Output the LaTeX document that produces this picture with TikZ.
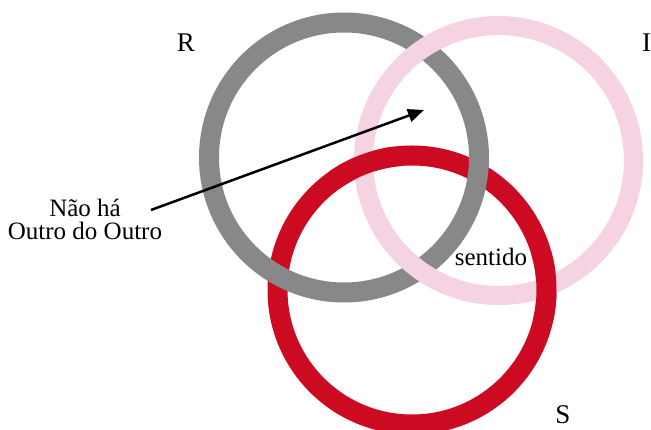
\documentclass[tikz,border=0pt]{standalone}
\usepackage{fontspec}
\setmainfont{Liberation Serif}
\usetikzlibrary{arrows.meta}
\definecolor{ringgray}{HTML}{87888A}
\definecolor{ringpink}{HTML}{F6D3E2}
\definecolor{ringred}{HTML}{CC0A21}
\begin{document}
\begin{tikzpicture}[x=1pt,y=-1pt,
  ring/.style={line width=20pt},
  lbl/.style={font=\fontsize{25}{25}\selectfont, inner sep=0pt, anchor=base},
  biglbl/.style={font=\fontsize{27}{27}\selectfont, inner sep=0pt, anchor=base},
  pointer/.style={line width=2.5pt, -{Triangle[length=16pt,width=13pt]}}]
\useasboundingbox (0,0) rectangle (651,430);
\coordinate (cR) at (344,157.5);
\coordinate (cI) at (498.5,160.5);
\coordinate (cS) at (412,290);
% rings
\draw[ring, ringred] (cS) circle[radius=134.5pt];
\draw[ring, ringgray] (cR) circle[radius=135pt];
\draw[ring, ringpink, line width=19pt] (cI) circle[radius=135pt];
\begin{scope}
  \clip (364,164) circle[radius=35pt] (547,286) circle[radius=35pt];
  \draw[ring, ringred] (cS) circle[radius=134.5pt];
\end{scope}
% labels
\node[biglbl] (R) at (186,52) {R};
\node[biglbl] (I) at (646.5,52) {I};
\node[biglbl] (S) at (563,424) {S};
\node[lbl] (sent) at (491,266) {sentido};
\node[lbl] (nao) at (85,217) {Não há};
\node[lbl] (outro) at (85,240) {Outro do Outro};
% arrow
\coordinate (from) at (151,210);
\coordinate (tip) at (424,110);
\draw[pointer] (from) -- (tip);
\end{tikzpicture}
\end{document}
